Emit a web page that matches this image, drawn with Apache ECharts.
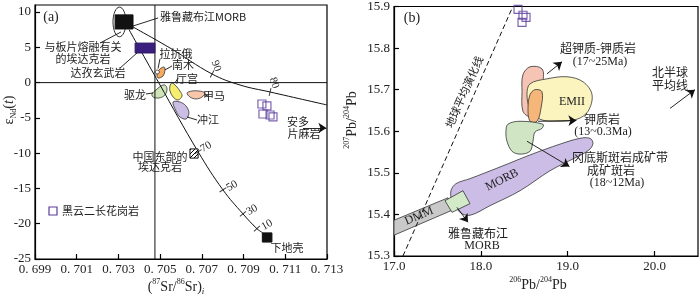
<!DOCTYPE html>
<html>
<head>
<meta charset="utf-8">
<script src="https://cdn.jsdelivr.net/npm/echarts@6/dist/echarts.min.js"></script>
<style>
  html, body { margin: 0; padding: 0; background: #fff; }
  #chart { width: 700px; height: 297px; }
</style>
</head>
<body>
<div id="chart"></div>
<script>
// ---------- (a) 87Sr/86Sr - εNd(t) ----------
var srTicks = [0.699, 0.701, 0.703, 0.705, 0.707, 0.709, 0.711, 0.713];
var ndTicks = [-25, -20, -15, -10, -5, 0, 5, 10];
var bulkEarthSr = 0.70475;   // 竖线
var churNd = 0;              // 横线

var morbYZ = [0.70284, 9.6, 0.70370, 7.6];          // 雅鲁藏布江MORB
var slabAdakite = [0.70305, 8.6, 0.00031, 2.1];     // 与板片熔融有关的埃达克岩 (椭圆)
var daziBasalt = [0.70380, 5.6, 0.70475, 4.2];      // 达孜玄武岩
var eastChinaAdakite = [0.70643, -9.4, 0.70682, -10.7];
var lowerCrust = [0.70990, -21.3, 0.71036, -22.6];
var anduoGneiss = [[0.70988, -3.03], [0.71012, -3.31], [0.70993, -4.45], [0.71027, -4.59], [0.71041, -4.87]];

var lowerCrustMix = [[0.70351, 7.5], [0.70493, 0], [0.70682, -9.8], [0.70801, -15.2], [0.70897, -18.6], [0.70964, -20.7], [0.70993, -21.3]];
var lowerCrustTicks = [[0.70682, -9.8], [0.70801, -15.2], [0.70897, -18.6], [0.70964, -20.7]];
var anduoMix = [[0.70370, 7.88], [0.70547, 4.91], [0.70749, 1.22], [0.70883, -0.34], [0.71027, -1.33], [0.71300, -3.17]];
var anduoTicks = [[0.70749, 1.22], [0.71027, -1.33]];

var lakange = [[0.70475, 1.51], [0.70485, 1.79], [0.70495, 1.65], [0.70495, 1.36], [0.70485, 1.22]];
var namu = [[0.70490, 0.66], [0.70485, 1.22], [0.70499, 1.93], [0.70519, 2.21], [0.70523, 1.79], [0.70514, 0.94]];
var tinggong = [[0.70557, -0.05], [0.70576, -0.48], [0.70595, -1.19], [0.70605, -1.90], [0.70586, -2.46], [0.70562, -2.04], [0.70547, -1.19], [0.70547, -0.48]];
var qulong = [[0.70523, -0.34], [0.70533, -0.90], [0.70523, -1.75], [0.70495, -2.18], [0.70466, -2.04], [0.70461, -1.61], [0.70480, -1.05], [0.70504, -0.48]];
var jiama = [[0.70629, -1.47], [0.70653, -1.19], [0.70686, -1.19], [0.70715, -1.47], [0.70701, -2.04], [0.70672, -2.32], [0.70643, -2.04]];
var chongjiang = [[0.70562, -2.75], [0.70595, -2.75], [0.70624, -3.31], [0.70638, -4.31], [0.70624, -5.16], [0.70595, -4.87], [0.70576, -4.02]];

var leadersA = [
  [[0.70370, 8.02], [0.70490, 9.16]],
  [[0.70212, 5.61], [0.70312, 7.17]],
  [[0.70308, 2.07], [0.70389, 4.20]],
  [[0.70499, 3.35], [0.70490, 2.0]],
  [[0.70523, 1.79], [0.70557, 2.36]],
  [[0.70571, -0.05], [0.70586, 0.66]],
  [[0.70432, -1.61], [0.70466, -1.47]],
  [[0.70715, -1.75], [0.70730, -1.90]],
  [[0.70629, -4.87], [0.70677, -5.30]]
];
var arrowsA = [[[0.71185, -6.43], [0.71297, -6.43]]];

// ---------- (b) 206Pb/204Pb - 207Pb/204Pb ----------
var pb206Ticks = [17, 18, 19, 20];
var pb207Ticks = [15.3, 15.4, 15.5, 15.6, 15.7, 15.8, 15.9];
var globalEvo = [[17.103, 15.3], [18.368, 15.9]];
var dmmBand = [[17, 15.386], [17.622, 15.440], [17.668, 15.410], [17, 15.350]];
var yzMorbB = [[17.587, 15.433], [17.794, 15.457], [17.875, 15.426], [17.668, 15.405]];
var morbField = [[17.760, 15.405], [17.668, 15.433], [17.656, 15.457], [17.714, 15.474], [17.875, 15.486], [18.220, 15.514], [18.566, 15.543], [18.911, 15.569], [19.141, 15.583], [19.256, 15.583], [19.291, 15.571], [19.245, 15.555], [19.084, 15.536], [18.796, 15.505], [18.451, 15.457], [18.105, 15.421], [17.875, 15.398]];
var porphyryField = [[18.289, 15.600], [18.312, 15.617], [18.451, 15.624], [18.715, 15.617], [18.704, 15.607], [18.623, 15.598], [18.600, 15.576], [18.566, 15.552], [18.451, 15.545], [18.358, 15.552], [18.301, 15.576]];
var ultraKField = [[18.566, 15.755], [18.704, 15.750], [18.715, 15.719], [18.658, 15.664], [18.566, 15.636], [18.485, 15.648], [18.474, 15.695], [18.485, 15.736]];
var emIIField = [[18.566, 15.714], [18.761, 15.726], [18.992, 15.731], [19.176, 15.719], [19.280, 15.688], [19.234, 15.648], [19.107, 15.629], [18.877, 15.624], [18.681, 15.629], [18.566, 15.655], [18.531, 15.688]];
var kField = [[18.623, 15.700], [18.704, 15.695], [18.692, 15.655], [18.646, 15.624], [18.566, 15.624], [18.543, 15.655], [18.566, 15.688]];
var pbGranite = [[18.428, 15.893], [18.485, 15.879], [18.520, 15.874], [18.474, 15.862]];
var arrowsB = [
  [[18.761, 15.738], [18.934, 15.767]],
  [[18.658, 15.624], [19.100, 15.626]],
  [[18.531, 15.576], [19.020, 15.515]],
  [[20.178, 15.655], [20.465, 15.700]],
  [[17.725, 15.417], [17.852, 15.381]]
];

var CJK = '"Noto Sans CJK SC", sans-serif';
var SERIF = '"Liberation Serif", "Times New Roman", serif';
var INK = '#222';
var PURPLE = '#5b3d9e';

var myChart = echarts.init(document.getElementById('chart'), null, { renderer: 'canvas' });

// 斜线填充
var hatch = document.createElement('canvas');
hatch.width = 4; hatch.height = 4;
var hc = hatch.getContext('2d');
hc.fillStyle = '#fff'; hc.fillRect(0, 0, 4, 4);
hc.strokeStyle = '#000'; hc.lineWidth = 1;
hc.beginPath(); hc.moveTo(0, 4); hc.lineTo(4, 0); hc.moveTo(-1, 1); hc.lineTo(1, -1); hc.moveTo(3, 5); hc.lineTo(5, 3); hc.stroke();

function poly(g, pts, fill, z) {
  return {
    type: 'custom', xAxisIndex: g, yAxisIndex: g, z: z || 2, silent: true, clip: true,
    data: [pts[0]],
    renderItem: function (p, api) {
      return {
        type: 'polygon',
        shape: { points: pts.map(function (d) { return api.coord(d); }), smooth: 0.35 },
        style: { fill: fill, stroke: '#333', lineWidth: 0.8 }
      };
    }
  };
}

function sharpPoly(g, pts, fill, z) {
  var s = poly(g, pts, fill, z);
  var r = s.renderItem;
  s.renderItem = function (p, api) { var o = r(p, api); o.shape.smooth = 0; return o; };
  return s;
}

function box(g, c, fill, stroke, z) {
  return {
    type: 'custom', xAxisIndex: g, yAxisIndex: g, z: z || 4, silent: true,
    data: [[c[0], c[1]]],
    renderItem: function (p, api) {
      var a = api.coord([c[0], c[1]]), b = api.coord([c[2], c[3]]);
      return {
        type: 'rect',
        shape: { x: Math.min(a[0], b[0]), y: Math.min(a[1], b[1]), width: Math.abs(b[0] - a[0]), height: Math.abs(b[1] - a[1]) },
        style: { fill: fill, stroke: stroke, lineWidth: 1 }
      };
    }
  };
}

function curve(g, pts, smooth, dashed) {
  return {
    type: 'line', xAxisIndex: g, yAxisIndex: g, data: pts, smooth: smooth ? 0.4 : false,
    symbol: 'none', silent: true, z: 3,
    lineStyle: { color: '#111', width: 1, type: dashed ? [5, 3] : 'solid' }
  };
}

function segs(g, list, arrow) {
  return {
    type: 'lines', coordinateSystem: 'cartesian2d', xAxisIndex: g, yAxisIndex: g, silent: true, z: 6,
    symbol: arrow ? ['none', 'arrow'] : ['none', 'none'], symbolSize: 8,
    lineStyle: { color: '#111', width: 0.9, opacity: 1 },
    data: list.map(function (c) { return { coords: c }; })
  };
}

function ticks(g, pts, angles) {
  return {
    type: 'scatter', xAxisIndex: g, yAxisIndex: g, silent: true, z: 5,
    symbol: 'rect', symbolSize: [8, 1],
    itemStyle: { color: '#111' },
    data: pts.map(function (d, i) { return { value: d, symbolRotate: angles[i] }; })
  };
}

function txt(x, y, s, opt) {
  opt = opt || {};
  return {
    type: 'text', x: x, y: y, rotation: (opt.rot || 0) * Math.PI / 180, z: 100, silent: true,
    style: {
      text: s, fill: opt.color || INK,
      fontSize: opt.size || 11, fontFamily: opt.font || CJK,
      textAlign: opt.align || 'center', align: opt.align || 'center',
      textVerticalAlign: 'middle', verticalAlign: 'middle',
      rich: opt.rich
    }
  };
}

var supRich = {
  n: { fontSize: 14, fontFamily: SERIF, fill: INK, color: INK, lineHeight: 18 },
  sup: { fontSize: 8, fontFamily: SERIF, fill: INK, color: INK, verticalAlign: 'top', lineHeight: 18 },
  sub: { fontSize: 9, fontFamily: SERIF, fill: INK, color: INK, fontStyle: 'italic', verticalAlign: 'bottom', lineHeight: 18 },
  subn: { fontSize: 8, fontFamily: SERIF, fill: INK, color: INK, verticalAlign: 'bottom', lineHeight: 18 },
  it: { fontSize: 14, fontFamily: SERIF, fill: INK, color: INK, fontStyle: 'italic', lineHeight: 18 }
};

function valueAxis(g, min, max, vals, fmt) {
  return {
    type: 'value', gridIndex: g, min: min, max: max,
    axisLine: { show: true, onZero: false, lineStyle: { color: '#000', width: 1.2 } },
    axisTick: { show: true, inside: true, length: 5, customValues: vals, lineStyle: { color: '#000', width: 1.2 } },
    axisLabel: { customValues: vals, formatter: fmt, color: INK, fontSize: 13, fontFamily: SERIF, margin: 4 },
    splitLine: { show: false }
  };
}

var option = {
  animation: false,
  backgroundColor: '#fff',
  grid: [
    { left: 35, top: 5, width: 292, height: 254, show: true, borderColor: '#000', borderWidth: 1.2, backgroundColor: 'transparent' },
    { left: 394, top: 4, width: 304, height: 252, show: true, borderColor: '#000', borderWidth: 1.2, backgroundColor: 'transparent' }
  ],
  xAxis: [
    valueAxis(0, 0.699, 0.713, srTicks, function (v) { return v.toFixed(3).replace('.', '. '); }),
    valueAxis(1, 17, 20.5, pb206Ticks, function (v) { return v.toFixed(1); })
  ],
  yAxis: [
    valueAxis(0, -25, 11, ndTicks, function (v) { return String(v); }),
    valueAxis(1, 15.3, 15.9, pb207Ticks, function (v) { return v.toFixed(1); })
  ],
  series: [
    // (a)
    curve(0, [[bulkEarthSr, -25], [bulkEarthSr, 11]]),
    curve(0, [[0.699, churNd], [0.713, churNd]]),
    curve(0, lowerCrustMix, true),
    curve(0, anduoMix, true),
    ticks(0, lowerCrustTicks, [31, 33, 40, 43]),
    ticks(0, anduoTicks, [63, 77]),
    poly(0, qulong, '#cfe5b8'),
    poly(0, tinggong, '#f7ee6e'),
    poly(0, jiama, '#f6c7ab'),
    poly(0, chongjiang, '#cbbde3'),
    poly(0, namu, '#f5a95c'),
    poly(0, lakange, '#ffffff'),
    {
      type: 'custom', xAxisIndex: 0, yAxisIndex: 0, z: 3, silent: true,
      data: [[slabAdakite[0], slabAdakite[1]]],
      renderItem: function (p, api) {
        var c = api.coord([slabAdakite[0], slabAdakite[1]]);
        var s = api.size([slabAdakite[2], slabAdakite[3]]);
        return { type: 'ellipse', shape: { cx: c[0], cy: c[1], rx: s[0], ry: s[1] }, style: { fill: 'none', stroke: '#111', lineWidth: 0.9 } };
      }
    },
    box(0, morbYZ, '#111', '#111'),
    box(0, daziBasalt, '#3b1f7e', '#2a1560'),
    box(0, eastChinaAdakite, { image: hatch, repeat: 'repeat' }, '#111'),
    box(0, lowerCrust, '#111', '#111'),
    {
      type: 'scatter', xAxisIndex: 0, yAxisIndex: 0, silent: true, z: 7,
      symbol: 'rect', symbolSize: 8, data: anduoGneiss,
      itemStyle: { color: 'rgba(255,255,255,0)', borderColor: PURPLE, borderWidth: 1.2 }
    },
    segs(0, leadersA, false),
    segs(0, arrowsA, true),
    // (b)
    curve(1, globalEvo, false, true),
    sharpPoly(1, dmmBand, '#c9c9c9'),
    poly(1, morbField, '#cbbde6'),
    poly(1, ultraKField, '#f6c4b4'),
    poly(1, emIIField, '#fbf4bf'),
    poly(1, kField, '#f6b679'),
    poly(1, porphyryField, '#cfe5c3'),
    sharpPoly(1, yzMorbB, '#d2eac8', 4),
    {
      type: 'scatter', xAxisIndex: 1, yAxisIndex: 1, silent: true, z: 7,
      symbol: 'rect', symbolSize: 8, data: pbGranite,
      itemStyle: { color: 'rgba(255,255,255,0)', borderColor: PURPLE, borderWidth: 1.2 }
    },
    segs(1, arrowsB, true)
  ],
  graphic: [
    // (a) 标注
    txt(51, 17, '(a)', { font: SERIF, size: 14 }),
    txt(160, 17, '雅鲁藏布江MORB', { align: 'left' }),
    txt(83, 47, '与板片熔融有关'),
    txt(83, 59, '的埃达克岩'),
    txt(98, 73, '达孜玄武岩'),
    txt(176, 54, '拉抗俄'),
    txt(183, 65, '南木'),
    txt(187, 79, '厅宫'),
    txt(135, 95, '驱龙'),
    txt(214, 96, '甲马'),
    txt(208, 120, '冲江'),
    txt(298, 122, '安多'),
    txt(304, 134, '片麻岩'),
    txt(160, 157, '中国东部的'),
    txt(160, 167, '埃达克岩'),
    txt(287, 248, '下地壳'),
    txt(62, 211, '黑云二长花岗岩', { align: 'left' }),
    txt(206, 147, '70', { font: SERIF, size: 11, rot: 30 }),
    txt(232, 186, '50', { font: SERIF, size: 11, rot: 30 }),
    txt(252, 210, '30', { font: SERIF, size: 11, rot: 30 }),
    txt(267, 225, '10', { font: SERIF, size: 11, rot: 30 }),
    txt(216, 66, '90', { font: SERIF, size: 11, rot: -70 }),
    txt(274, 83, '80', { font: SERIF, size: 11, rot: -70 }),
    { type: 'rect', x: 49, y: 207, shape: { x: 0, y: 0, width: 8, height: 8 }, style: { fill: 'none', stroke: PURPLE, lineWidth: 1.2 }, z: 100 },
    txt(176, 287, '{n|(}{sup|87}{n|Sr/}{sup|86}{n|Sr)}{sub|i}', { rich: supRich }),
    txt(9, 110, '{n|ε}{subn|Nd}{n|(}{it|t}{n|)}', { rich: supRich, rot: 90 }),
    // (b) 标注
    txt(412, 18, '(b)', { font: SERIF, size: 14 }),
    txt(464, 92, '地球平均演化线', { size: 11, rot: 66 }),
    txt(598, 48, '超钾质-钾质岩', { size: 12 }),
    txt(600, 62, '(17~25Ma)', { font: SERIF, size: 12 }),
    txt(572, 102, 'EMII', { font: SERIF, size: 12 }),
    txt(602, 119, '钾质岩', { size: 12 }),
    txt(603, 132, '(13~0.3Ma)', { font: SERIF, size: 12 }),
    txt(620, 157, '冈底斯斑岩成矿带', { size: 12 }),
    txt(611, 170, '成矿斑岩', { size: 12 }),
    txt(617, 183, '(18~12Ma)', { font: SERIF, size: 12 }),
    txt(670, 72, '北半球', { size: 12 }),
    txt(670, 85, '平均线', { size: 12 }),
    txt(419, 216, 'DMM', { font: SERIF, size: 12, rot: 23 }),
    txt(502, 180, 'MORB', { font: SERIF, size: 12, rot: 27 }),
    txt(478, 233, '雅鲁藏布江', { size: 12 }),
    txt(482, 246, 'MORB', { font: SERIF, size: 12 }),
    txt(538, 285, '{sup|206}{n|Pb/}{sup|204}{n|Pb}', { rich: supRich }),
    txt(352, 120, '{sup|207}{n|Pb/}{sup|204}{n|Pb}', { rich: supRich, rot: 90 })
  ]
};

myChart.setOption(option);
</script>
</body>
</html>
